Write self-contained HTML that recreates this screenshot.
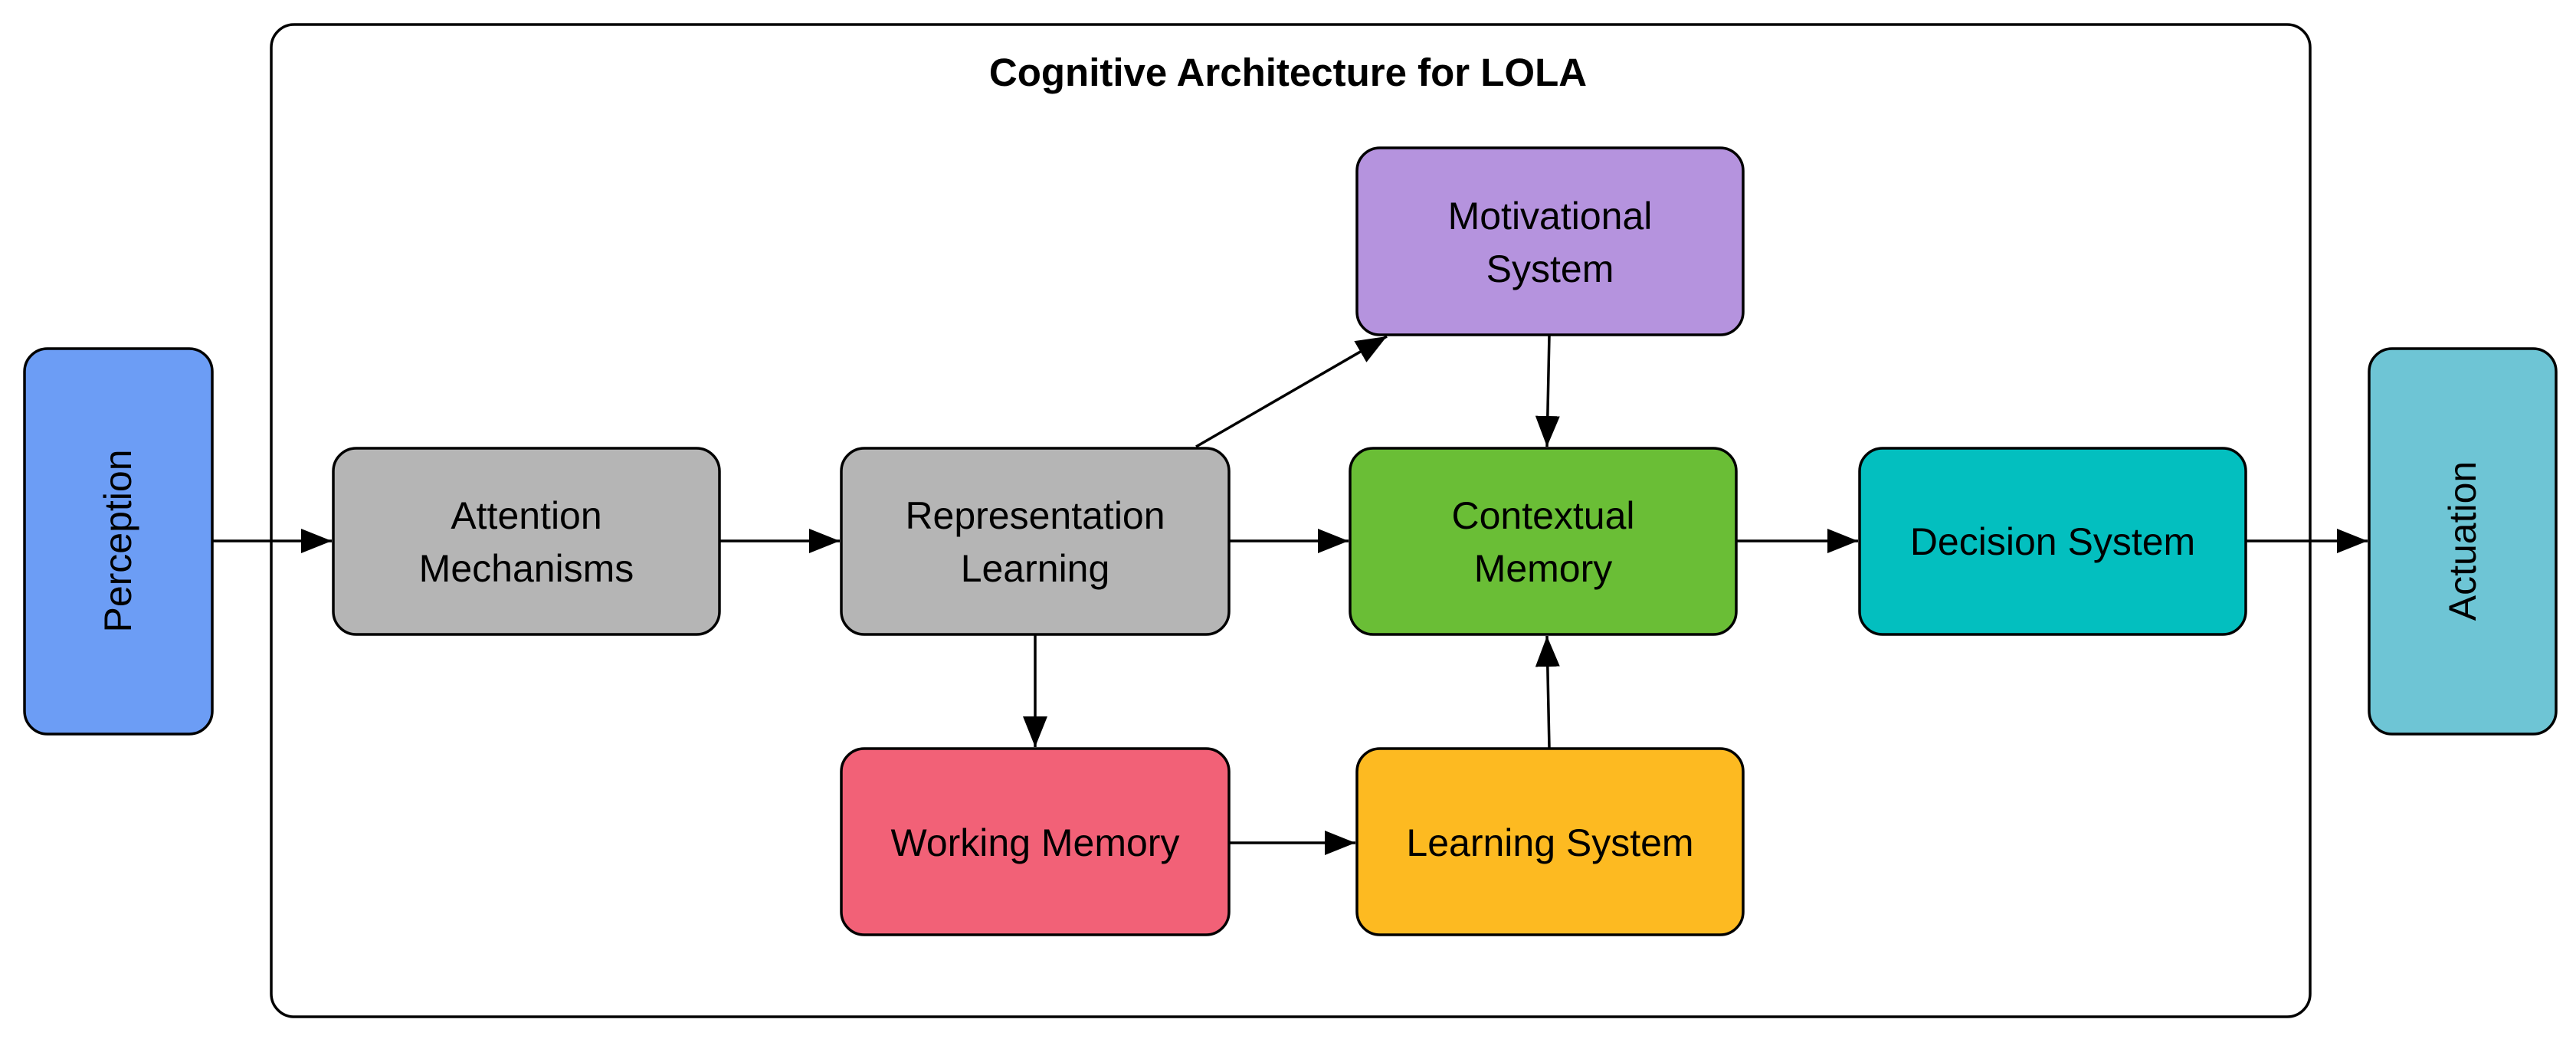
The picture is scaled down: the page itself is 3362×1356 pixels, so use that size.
<!DOCTYPE html>
<html><head><meta charset="utf-8"><style>
html,body{margin:0;padding:0;background:#fff;}
svg{display:block;}
text{font-family:"Liberation Sans",Arial,sans-serif;fill:#000;}
</style></head><body>
<svg width="3362" height="1356" viewBox="0 0 3362 1356" xmlns="http://www.w3.org/2000/svg">
<defs>
<marker id="ah" markerWidth="40" markerHeight="32" refX="40" refY="16" orient="auto" markerUnits="userSpaceOnUse">
<path d="M0,0 L40,16 L0,32 Z" fill="#000"/>
</marker>
</defs>
<rect x="354" y="32" width="2661" height="1295" rx="30" fill="#fff" stroke="#000" stroke-width="3.5"/>
<text x="1681" y="112" font-size="51" font-weight="bold" text-anchor="middle">Cognitive Architecture for LOLA</text>

<g stroke="#000" stroke-width="3.5">
<rect x="32" y="455" width="245" height="503" rx="30" fill="#6C9DF5"/>
<rect x="435" y="585" width="504" height="243" rx="30" fill="#B5B5B5"/>
<rect x="1098" y="585" width="506" height="243" rx="30" fill="#B5B5B5"/>
<rect x="1098" y="977" width="506" height="243" rx="30" fill="#F26177"/>
<rect x="1771" y="193" width="504" height="244" rx="30" fill="#B593DE"/>
<rect x="1762" y="585" width="504" height="243" rx="30" fill="#6ABE36"/>
<rect x="1771" y="977" width="504" height="243" rx="30" fill="#FDBA21"/>
<rect x="2427" y="585" width="504" height="243" rx="30" fill="#03BFBF"/>
<rect x="3092" y="455" width="244" height="503" rx="30" fill="#6EC5D5"/>
</g>

<g stroke="#000" stroke-width="3.5" fill="none" marker-end="url(#ah)">
<line x1="277" y1="706" x2="433" y2="706"/>
<line x1="939" y1="706" x2="1096" y2="706"/>
<line x1="1604" y1="706" x2="1760" y2="706"/>
<line x1="2266" y1="706" x2="2425" y2="706"/>
<line x1="2931" y1="706" x2="3090" y2="706"/>
<line x1="1351" y1="828" x2="1351" y2="975"/>
<line x1="1604" y1="1100" x2="1769" y2="1100"/>
<line x1="2022" y1="977" x2="2019" y2="830"/>
<line x1="2022" y1="437" x2="2019" y2="583"/>
<line x1="1561" y1="583" x2="1810" y2="439"/>
</g>

<g font-size="50" text-anchor="middle">
<text x="154" y="706" transform="rotate(-90 154 706)" dominant-baseline="central">Perception</text>
<text x="3214" y="706" transform="rotate(-90 3214 706)" dominant-baseline="central">Actuation</text>
<text x="687" y="690">Attention</text>
<text x="687" y="759">Mechanisms</text>
<text x="1351" y="690">Representation</text>
<text x="1351" y="759">Learning</text>
<text x="1351" y="1117">Working Memory</text>
<text x="2023" y="299">Motivational</text>
<text x="2023" y="368">System</text>
<text x="2014" y="690">Contextual</text>
<text x="2014" y="759">Memory</text>
<text x="2023" y="1117">Learning System</text>
<text x="2679" y="724">Decision System</text>
</g>
</svg>
</body></html>
